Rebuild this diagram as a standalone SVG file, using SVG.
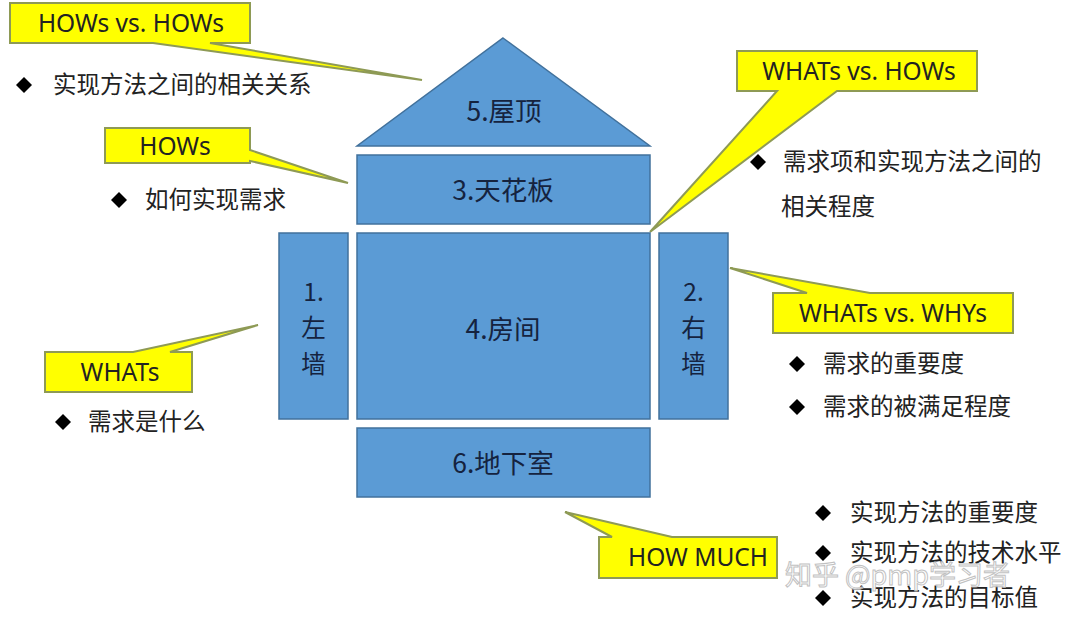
<svg xmlns="http://www.w3.org/2000/svg" width="1080" height="627" viewBox="0 0 1080 627">
<style>
.blk{fill:#5B9BD5;stroke:#41719C;stroke-width:1.5}
.lbl{font-family:"Noto Sans CJK SC","Noto Sans",sans-serif;font-size:26.5px;fill:#15233F;text-anchor:middle}
.wl{font-size:24.5px}
.co{fill:#FFFF00;stroke:#8E9A55;stroke-width:2;stroke-linejoin:miter}
.cot{font-family:"Noto Sans","Noto Sans CJK SC",sans-serif;font-size:24.5px;fill:#222;text-anchor:middle}
.bt{font-family:"Noto Sans CJK SC",sans-serif;font-size:23.5px;fill:#222}
.dia{fill:#000}
.wm{font-family:"Noto Sans CJK SC",sans-serif;font-size:27px;fill:#fff;stroke:#bbb;stroke-width:1;opacity:0.9}
</style>
<defs>
<path id="d" d="M0,-8 L8,0 L0,8 L-8,0 Z"/>
</defs>
<rect width="1080" height="627" fill="#fff"/>

<g id="connectors">
<path class="co" d="M10,3 H250 V43 H210 L422,80 L153,43 H10 Z"/>
<path class="co" d="M105,128 H250 V150 L348,183 L250,161 V163 H105 Z"/>
<path class="co" d="M737,51 H977 V91 H837 L650,232 L777,91 H737 Z"/>
<path class="co" d="M773,293 H807 L730,268 L870,293 H1013 V333 H773 Z"/>
<path class="co" d="M45,352 H133 L258,325 L170,352 H192 V392 H45 Z"/>
<path class="co" d="M599,537 H612 L565,512 L672,537 H777 V578 H599 Z"/>
</g>

<g id="roof"><path class="blk" d="M503,38 L650,146 L357,146 Z"/><text class="lbl" x="504" y="121">5.屋顶</text></g>
<g id="ceiling"><rect class="blk" x="357" y="155" width="293" height="69"/><text class="lbl" x="503" y="200">3.天花板</text></g>
<g id="leftwall"><rect class="blk" x="279" y="233" width="69" height="186"/><text class="lbl wl" x="313.5" y="301">1.</text><text class="lbl wl" x="313.5" y="337">左</text><text class="lbl wl" x="313.5" y="373">墙</text></g>
<g id="room"><rect class="blk" x="357" y="233" width="293" height="186"/><text class="lbl" x="503" y="339">4.房间</text></g>
<g id="rightwall"><rect class="blk" x="659" y="233" width="69" height="186"/><text class="lbl wl" x="693.5" y="301">2.</text><text class="lbl wl" x="693.5" y="337">右</text><text class="lbl wl" x="693.5" y="373">墙</text></g>
<g id="basement"><rect class="blk" x="357" y="428" width="293" height="69"/><text class="lbl" x="503" y="473">6.地下室</text></g>

<g id="c-hows-hows"><text class="cot" x="131" y="32">HOWs vs. HOWs</text>
<use href="#d" x="24" y="85" class="dia"/><text class="bt" x="53" y="93">实现方法之间的相关关系</text></g>
<g id="c-hows"><text class="cot" x="175" y="155">HOWs</text>
<use href="#d" x="119" y="200" class="dia"/><text class="bt" x="145" y="208">如何实现需求</text></g>
<g id="c-whats-hows"><text class="cot" x="859" y="80">WHATs vs. HOWs</text>
<use href="#d" x="758" y="162" class="dia"/><text class="bt" x="783" y="170">需求项和实现方法之间的</text><text class="bt" x="781" y="215">相关程度</text></g>
<g id="c-whats-whys"><text class="cot" x="893" y="322">WHATs vs. WHYs</text>
<use href="#d" x="797" y="364" class="dia"/><text class="bt" x="823" y="372">需求的重要度</text>
<use href="#d" x="797" y="407" class="dia"/><text class="bt" x="823" y="415">需求的被满足程度</text></g>
<g id="c-whats"><text class="cot" x="120" y="381">WHATs</text>
<use href="#d" x="63" y="422" class="dia"/><text class="bt" x="88" y="430">需求是什么</text></g>
<g id="c-howmuch"><text class="cot" x="698" y="566">HOW MUCH</text>
<use href="#d" x="823" y="513" class="dia"/><text class="bt" x="850" y="521">实现方法的重要度</text>
<use href="#d" x="823" y="553" class="dia"/><text class="bt" x="850" y="561">实现方法的技术水平</text>
<use href="#d" x="823" y="598" class="dia"/><text class="bt" x="850" y="606">实现方法的目标值</text></g>
<text class="wm" x="785" y="585">知乎 @pmp学习者</text>
</svg>
